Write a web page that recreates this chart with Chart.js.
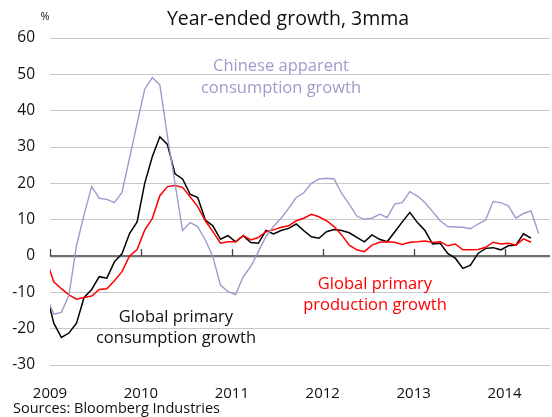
<!DOCTYPE html>
<html>
<head>
<meta charset="utf-8">
<script src="https://cdn.jsdelivr.net/npm/chart.js@4.4.1/dist/chart.umd.min.js"></script>
<style>
  html, body { margin: 0; padding: 0; background: #fff; }
  canvas { display: block; }
</style>
</head>
<body>
<canvas id="c" width="552" height="417"></canvas>
<script>
// Monthly series, first value = Dec 2008, then Jan 2009 onwards (3-month moving average, year-ended %)
const firstMonth = "2008-12";
const yearLabels = ["2009", "2010", "2011", "2012", "2013", "2014"];
const yTicks = [-30, -20, -10, 0, 10, 20, 30, 40, 50, 60];

const chineseConsumption = [
  -11, -16.0, -15.5, -10.8, 2.9, 11.4, 19.1, 15.9, 15.6, 14.7, 17.5, 27.0, 36.5,
  45.9, 49.1, 47.1, 33.0, 20.0, 7.0, 9.2, 8.1, 4.4, -0.2, -8.0, -9.8,
  -10.6, -5.7, -2.9, 1.2, 5.3, 8.1, 10.4, 13.1, 16.1, 17.4, 20.0, 21.2,
  21.4, 21.2, 17.2, 14.3, 11.0, 10.1, 10.4, 11.5, 10.6, 14.3, 14.7, 17.7,
  16.5, 14.7, 12.2, 9.7, 8.1, 8.0, 7.9, 7.5, 8.8, 9.9, 15.0, 14.7,
  13.8, 10.4, 11.7, 12.4, 6.2
];
const globalConsumption = [
  -10.3, -18.5, -22.4, -21.2, -18.5, -11.4, -9.2, -5.7, -6.1, -1.6, 0.6, 6.2, 9.4,
  20.0, 27.3, 32.8, 30.7, 22.6, 21.2, 17.0, 16.1, 9.9, 8.3, 4.6, 5.6,
  3.9, 5.6, 3.7, 3.5, 7.0, 6.1, 7.0, 7.6, 8.8, 7.0, 5.3, 4.9,
  6.7, 7.3, 7.0, 6.4, 5.1, 3.9, 5.8, 4.6, 3.9, 6.6, 9.4, 12.0,
  9.2, 7.0, 3.3, 3.5, 0.7, -0.6, -3.4, -2.5, 0.7, 2.1, 2.3, 1.7,
  2.8, 3.0, 6.1, 4.9
];
const globalProduction = [
  -0.9, -7.1, -9.0, -10.7, -11.9, -11.4, -11.0, -9.2, -9.0, -6.8, -4.3, 0.0, 1.8,
  7.1, 10.3, 16.6, 19.1, 19.4, 18.9, 16.3, 13.6, 9.7, 6.7, 3.5, 3.9,
  3.9, 5.6, 4.4, 5.1, 6.7, 7.2, 7.9, 8.3, 9.7, 10.4, 11.5, 10.8,
  9.7, 8.1, 5.8, 3.0, 1.7, 1.2, 3.0, 3.8, 3.9, 3.8, 3.2, 3.8,
  3.9, 4.1, 3.7, 3.9, 2.8, 3.3, 1.7, 1.7, 1.8, 2.4, 3.8, 3.3,
  3.5, 3.0, 4.7, 3.8
];

// x position: months since Jan 2009 (points plotted mid-month)
function toPoints(arr) {
  return arr.map((v, i) => ({ x: i - 0.5, y: v }));
}

const FONT = "'Open Sans', 'Noto Sans', 'DejaVu Sans', sans-serif";

const textPlugin = {
  id: 'texts',
  afterDatasetsDraw(chart) {
    const ctx = chart.ctx;
    const xs = chart.scales.x, ys = chart.scales.y;
    const y0 = ys.getPixelForValue(0);
    ctx.save();
    // tick marks on zero line at each year
    ctx.strokeStyle = '#444';
    ctx.lineWidth = 1.3;
    xs.ticks.forEach(t => {
      const px = Math.round(xs.getPixelForValue(t.value)) + 0.5;
      ctx.beginPath();
      ctx.moveTo(px, y0 - 7);
      ctx.lineTo(px, y0);
      ctx.stroke();
    });
    ctx.restore();
  },
  afterDraw(chart) {
    const ctx = chart.ctx;
    ctx.save();
    ctx.textBaseline = 'middle';
    ctx.textAlign = 'center';
    ctx.fillStyle = '#111';
    ctx.font = "19.5px " + FONT;
    ctx.fillText('Year-ended growth, 3mma', 288, 19);
    ctx.font = "11px " + FONT;
    ctx.fillText('%', 45, 17);

    ctx.font = "16.5px " + FONT;
    ctx.fillStyle = '#9c9ccc';
    ctx.fillText('Chinese apparent', 281, 66);
    ctx.fillText('consumption growth', 281, 88);

    ctx.fillStyle = '#111';
    ctx.fillText('Global primary', 176, 317);
    ctx.fillText('consumption growth', 176, 338);

    ctx.fillStyle = '#ff0000';
    ctx.fillText('Global primary', 375, 284);
    ctx.fillText('production growth', 375, 305);

    ctx.textAlign = 'left';
    ctx.fillStyle = '#111';
    ctx.font = "14.5px " + FONT;
    ctx.fillText('Sources: Bloomberg Industries', 13, 409);
    ctx.restore();
  }
};

new Chart(document.getElementById('c'), {
  type: 'line',
  data: {
    datasets: [
      {
        label: 'Chinese apparent consumption growth',
        data: toPoints(chineseConsumption),
        borderColor: '#9c9ccc',
        borderWidth: 1.4,
        pointRadius: 0,
        tension: 0,
        fill: false
      },
      {
        label: 'Global primary production growth',
        data: toPoints(globalProduction),
        borderColor: '#ff0000',
        borderWidth: 1.5,
        pointRadius: 0,
        tension: 0,
        fill: false
      },
      {
        label: 'Global primary consumption growth',
        data: toPoints(globalConsumption),
        borderColor: '#000000',
        borderWidth: 1.5,
        pointRadius: 0,
        tension: 0,
        fill: false
      }
    ]
  },
  options: {
    responsive: false,
    animation: false,
    devicePixelRatio: 1,
    layout: { padding: { top: 38, right: 2, left: 0, bottom: 0 } },
    plugins: {
      legend: { display: false },
      tooltip: { enabled: false },
      title: { display: false }
    },
    scales: {
      x: {
        type: 'linear',
        min: 0,
        max: 66,
        afterBuildTicks: s => { s.ticks = yearLabels.map((_, i) => ({ value: i * 12 })); },
        afterFit: s => { s.height = 52; },
        grid: { display: false, drawTicks: false },
        border: { display: false },
        ticks: {
          autoSkip: false,
          maxRotation: 0,
          padding: 20,
          color: '#111',
          font: { size: 15, family: FONT },
          callback: v => yearLabels[Math.round(v / 12)]
        }
      },
      y: {
        min: -30,
        max: 60,
        afterBuildTicks: s => { s.ticks = yTicks.map(v => ({ value: v })); },
        afterFit: s => { s.width = 50; },
        grid: {
          drawTicks: false,
          color: c => (c.tick && c.tick.value === 0) ? '#707070' : '#c8c8c8',
          lineWidth: c => (c.tick && c.tick.value === 0) ? 2.2 : 1
        },
        border: { display: false },
        ticks: {
          padding: 15,
          color: '#111',
          font: { size: 15.5, family: FONT }
        }
      }
    }
  },
  plugins: [textPlugin]
});
</script>
</body>
</html>
